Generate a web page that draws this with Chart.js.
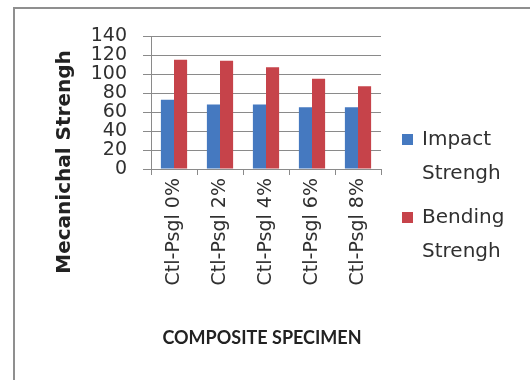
<!DOCTYPE html>
<html>
<head>
<meta charset="utf-8">
<script src="https://cdn.jsdelivr.net/npm/chart.js@4/dist/chart.umd.min.js"></script>
<style>
  html, body { margin: 0; padding: 0; background: #ffffff; }
  #wrap { width: 530px; height: 380px; }
</style>
</head>
<body>
<div id="wrap"><canvas id="c" width="530" height="380"></canvas></div>
<script>
// Specimen groups and measured strengths
const categories = ['Ctl-Psgl 0%', 'Ctl-Psgl 2%', 'Ctl-Psgl 4%', 'Ctl-Psgl 6%', 'Ctl-Psgl 8%'];
const seriesNames = [['Impact', 'Strengh'], ['Bending', 'Strengh']];
const impactStrength = [73, 68, 68, 65, 65];
const bendingStrength = [115, 114, 107, 95, 87];
const yTickValues = [0, 20, 40, 60, 80, 100, 120, 140];

const xTitle = 'COMPOSITE SPECIMEN';
const yTitle = 'Mecanichal Strengh';

const BLUE = '#4579c0';
const RED = '#c6434a';
const GRID = '#8a8a8a';
const TEXT = '#303030';

// Frame, axis titles and a two-line legend on the right
const decor = {
  id: 'decor',
  afterDraw(chart) {
    const ctx = chart.ctx;
    ctx.save();
    // outer frame (top and left edges)
    ctx.strokeStyle = '#8f8f8f';
    ctx.lineWidth = 2;
    ctx.beginPath();
    ctx.moveTo(14, 380);
    ctx.lineTo(14, 8);
    ctx.lineTo(530, 8);
    ctx.stroke();

    // axis titles
    ctx.fillStyle = '#222222';
    ctx.textAlign = 'center';
    ctx.textBaseline = 'middle';
    ctx.font = '700 18px Lato';
    ctx.fillText(xTitle, 262, 338);
    ctx.save();
    ctx.translate(65, 162);
    ctx.rotate(-Math.PI / 2);
    ctx.font = 'bold 20px "DejaVu Sans"';
    ctx.fillText(yTitle, 0, 0);
    ctx.restore();

    // legend
    const items = chart.data.datasets;
    const tops = [140, 218];
    ctx.textAlign = 'left';
    ctx.font = '20px "DejaVu Sans"';
    items.forEach((ds, i) => {
      const y = tops[i];
      ctx.fillStyle = ds.backgroundColor;
      ctx.fillRect(402, y - 6, 11, 11);
      ctx.fillStyle = TEXT;
      const lines = seriesNames[i];
      lines.forEach((ln, k) => ctx.fillText(ln, 422, y + k * 34));
    });
    ctx.restore();
  }
};

new Chart(document.getElementById('c'), {
  type: 'bar',
  data: {
    labels: categories,
    datasets: [
      { label: seriesNames[0].join(' '), data: impactStrength, backgroundColor: BLUE,
        categoryPercentage: 0.57, barPercentage: 1.0 },
      { label: seriesNames[1].join(' '), data: bendingStrength, backgroundColor: RED,
        categoryPercentage: 0.57, barPercentage: 1.0 }
    ]
  },
  options: {
    responsive: false,
    animation: false,
    devicePixelRatio: 1,
    layout: { padding: { top: 36, right: 149, left: 0, bottom: 0 } },
    plugins: { legend: { display: false }, tooltip: { enabled: false } },
    scales: {
      x: {
        grid: { offset: true, drawOnChartArea: false, drawTicks: true, tickLength: 6, color: GRID },
        border: { color: GRID, width: 1 },
        ticks: {
          maxRotation: 90, minRotation: 90, padding: 3, color: TEXT,
          font: { family: 'DejaVu Sans', size: 19 }
        },
        afterFit(s) { s.height = 211; }
      },
      y: {
        min: 0, max: 140,
        afterBuildTicks(s) { s.ticks = yTickValues.map(v => ({ value: v })); },
        grid: { color: GRID, tickLength: 8 },
        border: { color: GRID, width: 1 },
        ticks: {
          autoSkip: false, padding: 16, color: TEXT,
          font: { family: 'DejaVu Sans', size: 19 }
        },
        afterFit(s) { s.width = 151; }
      }
    }
  },
  plugins: [decor]
});
</script>
</body>
</html>
